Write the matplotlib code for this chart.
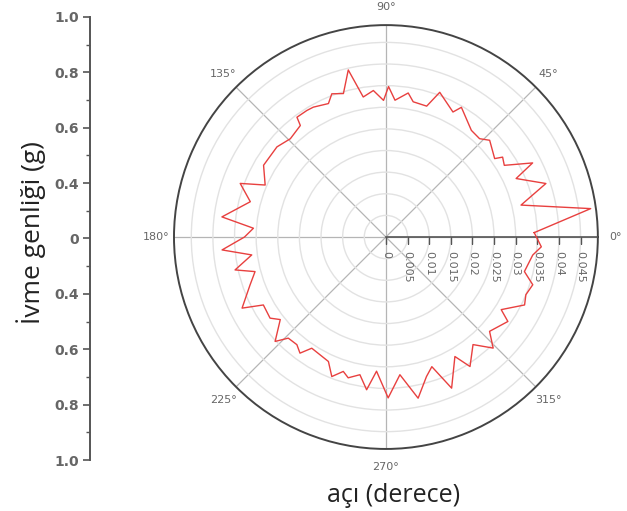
import numpy as np
import matplotlib
matplotlib.use("Agg")
import matplotlib.pyplot as plt
from matplotlib import transforms

# ---- data ----
angles_deg = [1.7, 7.9, 13.3, 18.5, 24.2, 26.8, 31.2, 34.4, 35.8, 43.0, 46.4, 51.3, 59.8, 61.8,
              69.6, 72.7, 78.6, 81.2, 86.2, 89.0,
              91.0, 94.9, 99.2, 102.7, 106.5, 110.7, 113.3, 119.2, 122.0, 126.6, 127.5, 134.2,
              140.4, 149.6, 156.7, 159.8, 165.4, 173.0, 176.2, 180.0,
              184.5, 187.6, 192.3, 194.8, 199.4, 206.3, 209.0, 215.0, 218.0, 223.3, 226.0,
              230.4, 233.5, 236.3, 245.2, 248.8, 252.4, 255.0, 259.3, 262.8, 266.0, 270.8,
              275.8, 281.3, 286.2, 289.5, 293.5, 300.0, 303.0, 309.0, 314.0, 317.7, 325.3,
              327.8, 333.9, 337.6, 342.0, 346.0, 353.0, 356.4, 361.7]
amplitude = [0.0343, 0.0478, 0.0321, 0.0390, 0.0330, 0.0380, 0.0320, 0.0327, 0.0310, 0.0328,
             0.0314, 0.0316, 0.0347, 0.0328, 0.0357, 0.0317, 0.0319, 0.0337, 0.0317, 0.0348,
             0.0316, 0.0340, 0.0328, 0.0396, 0.0346, 0.0354, 0.0336, 0.0344, 0.0345, 0.0345,
             0.0325, 0.0317, 0.0327, 0.0328, 0.0304, 0.0359, 0.0324, 0.0382, 0.0307, 0.0327,
             0.0380, 0.0313, 0.0357, 0.0313, 0.0333, 0.0371, 0.0324, 0.0327, 0.0310, 0.0352,
             0.0325, 0.0323, 0.0334, 0.0309, 0.0317, 0.0346, 0.0326, 0.0337, 0.0324, 0.0356,
             0.0311, 0.0372,
             0.0320, 0.0380, 0.0336, 0.0318, 0.0381, 0.0319, 0.0357, 0.0320, 0.0357, 0.0324,
             0.0343, 0.0315, 0.0357, 0.0350, 0.0357, 0.0330, 0.0342, 0.0360, 0.0343]
r_ticks = [0, 0.005, 0.01, 0.015, 0.02, 0.025, 0.03, 0.035, 0.04, 0.045]
r_tick_labels = ["0", "0.005", "0.01", "0.015", "0.02", "0.025", "0.03", "0.035", "0.04", "0.045"]
r_max = 0.049
theta_ticks = [0, 45, 90, 135, 180, 225, 270, 315]
left_tick_labels = ["1.0", "0.8", "0.6", "0.4", "0", "0.4", "0.6", "0.8", "1.0"]

fig = plt.figure(figsize=(6.27, 5.11), dpi=100)

# ---- polar chart ----
ax = fig.add_axes([0.2775, 0.1213, 0.676, 0.8297], projection="polar")
ax.plot(np.deg2rad(angles_deg), amplitude, color="#e8403f", lw=1.0, zorder=5)
ax.set_ylim(0, r_max)
ax.set_yticks(r_ticks[1:])
ax.set_yticklabels([])
ax.yaxis.grid(True, color="#e2e2e2", lw=1.0)
ax.xaxis.grid(True, color="#b5b5b5", lw=0.9)
ax.set_xticks(np.deg2rad(theta_ticks))
ax.set_xticklabels([])
ax.tick_params(axis="x", direction="inout", length=6, color="#444444")
for t in theta_ticks:
    ax.text(np.deg2rad(t), r_max * 1.085, f"{t}°", ha="center", va="center",
            fontsize=8, color="#666666", clip_on=False)
ax.spines["polar"].set_color("#444444")
ax.spines["polar"].set_linewidth(1.4)

# radial axis along 0 degrees
ax.plot([0, 0], [0, r_max], color="#555555", lw=1.2, zorder=4)
ax.plot(np.zeros(len(r_ticks)), r_ticks, ls="none", marker=3, markersize=5,
        color="#555555", mew=1.0, zorder=4)
off = transforms.offset_copy(ax.transData, fig=fig, x=0, y=-10, units="points")
for rv, lab in zip(r_ticks, r_tick_labels):
    ax.text(0, rv, lab, transform=off, rotation=-90, ha="center", va="top",
            fontsize=8, color="#666666")

# ---- left amplitude axis ----
ay = fig.add_axes([0.1435, 0.0998, 0.001, 0.867])
ay.set_ylim(-1, 1)
ay.set_xticks([])
major = np.linspace(1, -1, len(left_tick_labels))
ay.set_yticks(major)
ay.set_yticklabels(left_tick_labels, fontsize=10, color="#666666", fontweight="bold")
ay.set_yticks((major[:-1] + major[1:]) / 2, minor=True)
for s in ["top", "right", "bottom"]:
    ay.spines[s].set_visible(False)
ay.spines["left"].set_color("#555555")
ay.spines["left"].set_linewidth(1.4)
ay.tick_params(axis="y", which="major", length=5, width=1.2, color="#555555", pad=3)
ay.tick_params(axis="y", which="minor", length=3, width=1.0, color="#555555")
ay.patch.set_visible(False)

fig.text(0.05, 0.545, "İvme genliği (g)", rotation=90, ha="center", va="center",
         fontsize=19, color="#222222", family="Open Sans")
fig.text(0.628, 0.031, "açı (derece)", ha="center", va="center",
         fontsize=18, color="#222222", family="Open Sans")

fig.savefig("out.png", dpi=100)
